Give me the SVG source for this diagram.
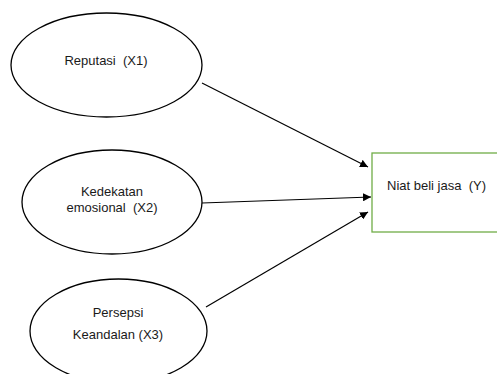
<svg xmlns="http://www.w3.org/2000/svg" width="497" height="374" viewBox="0 0 497 374">
<defs>
<style>
.n{fill:#fff;stroke:#000;stroke-width:1.3}
.b{fill:#fff;stroke:#70AD47;stroke-width:1.3}
.t{font-family:"Liberation Sans",Arial,sans-serif;font-size:13px;fill:#1a1a1a;text-anchor:middle}
.c{stroke:#000;stroke-width:1.2;fill:none;marker-end:url(#ah)}
</style>
<marker id="ah" viewBox="0 0 10 10" refX="10" refY="5" markerWidth="8" markerHeight="8" markerUnits="userSpaceOnUse" orient="auto">
<path d="M0,0 L10,5 L0,10 z" fill="#000"/>
</marker>
</defs>
<g id="connectors">
<line class="c" x1="202" y1="83" x2="368" y2="167"/>
<line class="c" x1="202" y1="203" x2="371" y2="197"/>
<line class="c" x1="206" y1="307" x2="368" y2="212"/>
</g>
<g id="x1">
<ellipse class="n" cx="106.5" cy="65" rx="95.5" ry="52"/>
<text class="t" x="106" y="65" xml:space="preserve">Reputasi  (X1)</text>
</g>
<g id="x2">
<ellipse class="n" cx="112" cy="202" rx="90" ry="52"/>
<text class="t" x="112" y="196">Kedekatan</text>
<text class="t" x="112" y="212" xml:space="preserve">emosional  (X2)</text>
</g>
<g id="x3">
<ellipse class="n" cx="118.5" cy="331" rx="88.5" ry="52"/>
<text class="t" x="118" y="317">Persepsi</text>
<text class="t" x="118" y="339">Keandalan (X3)</text>
</g>
<g id="y">
<rect class="b" x="372" y="153" width="130" height="79"/>
<text class="t" x="387" y="190" style="text-anchor:start" xml:space="preserve">Niat beli jasa  (Y)</text>
</g>
</svg>
